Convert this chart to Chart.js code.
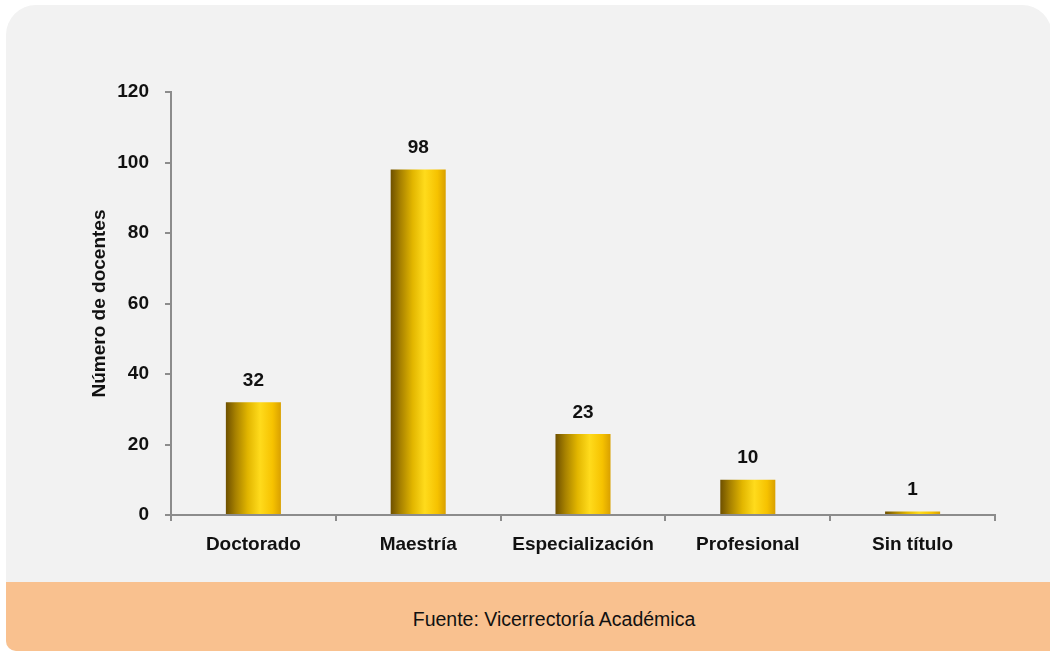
<!DOCTYPE html>
<html>
<head>
<meta charset="utf-8">
<script src="https://cdn.jsdelivr.net/npm/chart.js@4.4.1/dist/chart.umd.min.js"></script>
<style>
  html, body { margin: 0; padding: 0; background: #ffffff; }
  body { width: 1050px; height: 652px; position: relative; overflow: hidden; }
  #panel {
    position: absolute; left: 6px; top: 5px; width: 1046px; height: 646px;
    background: #f2f2f2; border-radius: 30px 30px 0 10px; overflow: hidden;
  }
  #footer {
    position: absolute; left: 0; bottom: 0; width: 100%; height: 69px;
    background: #f9c18f;
  }
  #footer span {
    position: absolute; left: 548px; top: 37px; transform: translate(-50%, -50%);
    font-family: "Liberation Sans", Arial, sans-serif;
    font-size: 19.5px; color: #111; white-space: nowrap;
  }
  #wrap { position: absolute; left: 0; top: 0; width: 1050px; height: 582px; }
</style>
</head>
<body>
<div id="panel"><div id="footer"><span>Fuente: Vicerrectoría Académica</span></div></div>
<div id="wrap"><canvas id="chart"></canvas></div>
<script>
// datos del gráfico
const categorias = ["Doctorado", "Maestría", "Especialización", "Profesional", "Sin título"];
const docentes = [32, 98, 23, 10, 1];
const tituloEjeY = "Número de docentes";

const fuente = '"Liberation Sans", Arial, sans-serif';
const gris = "#8c8c8c";

// degradado tipo cilindro para cada barra (opciones copiadas, no compartidas)
const cilindro = {
    id: "cilindro",
    beforeDatasetsDraw(chart) {
        const ctx = chart.ctx;
        chart.getDatasetMeta(0).data.forEach(bar => {
            const left = bar.x - bar.width / 2;
            const g = ctx.createLinearGradient(left, 0, left + bar.width, 0);
            g.addColorStop(0, "#6e5000");
            g.addColorStop(0.18, "#a88200");
            g.addColorStop(0.4, "#e2b600");
            g.addColorStop(0.62, "#ffdb1c");
            g.addColorStop(0.85, "#f6c200");
            g.addColorStop(1, "#d9a000");
            bar.options = Object.assign({}, bar.options, { backgroundColor: g });
        });
    }
};

// etiquetas de valor encima de las barras
const etiquetas = {
    id: "etiquetas",
    afterDatasetsDraw(chart) {
        const ctx = chart.ctx;
        ctx.save();
        ctx.font = "bold 19px " + fuente;
        ctx.fillStyle = "#111";
        ctx.textAlign = "center";
        ctx.textBaseline = "bottom";
        chart.getDatasetMeta(0).data.forEach((bar, i) => {
            ctx.fillText(docentes[i], bar.x, bar.y - 12);
        });
        ctx.restore();
    }
};

new Chart(document.getElementById("chart"), {
    type: "bar",
    data: {
        labels: categorias,
        datasets: [{
            data: docentes,
            backgroundColor: "#f0c000",
            borderWidth: 0,
            categoryPercentage: 1,
            barPercentage: 0.334
        }]
    },
    options: {
        responsive: true,
        maintainAspectRatio: false,
        animation: false,
        layout: { padding: { left: 0, right: 55, top: 92, bottom: 0 } },
        plugins: { legend: { display: false }, tooltip: { enabled: false } },
        scales: {
            x: {
                grid: { drawOnChartArea: false, drawTicks: true, tickLength: 6, color: gris, lineWidth: 2, offset: true },
                border: { color: gris, width: 2 },
                ticks: { color: "#111", padding: 12, autoSkip: false, maxRotation: 0, font: { family: fuente, size: 19, weight: "bold" } },
                afterFit: scale => { scale.height = 67; }
            },
            y: {
                min: 0, max: 120,
                grid: { drawOnChartArea: false, drawTicks: true, tickLength: 6, color: gris, lineWidth: 2 },
                border: { color: gris, width: 2 },
                ticks: { stepSize: 20, color: "#111", padding: 16, font: { family: fuente, size: 19, weight: "bold" } },
                title: { display: true, text: tituloEjeY, color: "#111", font: { family: fuente, size: 19, weight: "bold" }, padding: { top: 88, bottom: 0 } },
                afterFit: scale => { scale.width = 171; }
            }
        }
    },
    plugins: [cilindro, etiquetas]
});
</script>
</body>
</html>
